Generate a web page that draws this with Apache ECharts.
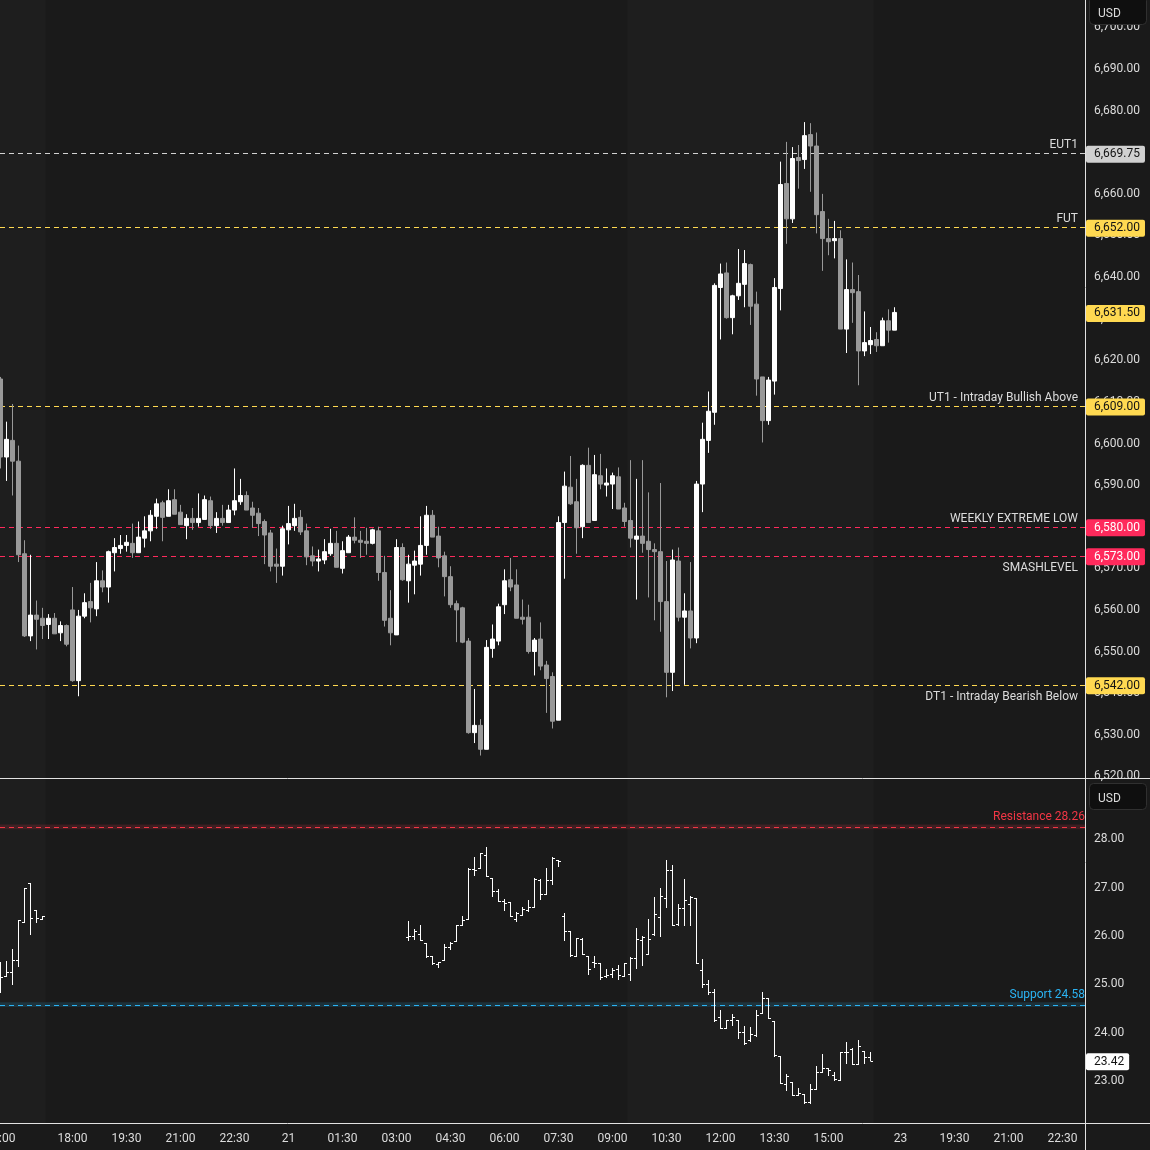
<!DOCTYPE html>
<html>
<head>
<meta charset="utf-8">
<script src="https://cdn.jsdelivr.net/npm/echarts@6/dist/echarts.min.js"></script>
<style>
html,body{margin:0;padding:0;background:#1a1a1a;}
#chart{width:1150px;height:1150px;}
</style>
</head>
<body>
<div id="chart"></div>
<script>
// ---------------- DATA ----------------
// 10-minute bars, slot index 0 = 15:00 (day 20); 17:00-18:00 break removed
const esOpen = [6615.5,6596.75,6600.75,6595.75,6573.5,6553.75,6558.75,6558,6556.5,6558,
6554.5,6556.25,6560,6543,6558.5,6562,6560.25,6567,6565.5,6573.75,
6574.75,6575.5,6576,6573.75,6577.25,6579,6582.5,6585.75,6582.5,6586.5,
6583.5,6580.25,6582,6581,6581.75,6586.25,6580.25,6582,6581,6584,
6586,6587.5,6584.5,6583.25,6581.25,6578.5,6571,6570.5,6579.25,6580.25,
6582.25,6579,6573,6571.75,6572,6573.5,6576,6570,6573.75,6577.5,
6576.75,6576.5,6576,6579,6569,6558,6554,6575,6567,6570.75,
6571,6575.5,6582.75,6577.75,6573,6568,6561.5,6560.5,6552.5,6530.5,
6532.25,6526.5,6550.75,6552.5,6561.25,6567.25,6566,6558.25,6558.25,6550,
6553,6546.75,6544,6533.5,6581,6589.5,6586,6580,6594.75,6581.5,
6592.25,6590,6590.25,6592,6584.5,6581.5,6577,6577.75,6576.5,6574.5,
6574,6562,6545,6571.75,6558.25,6559.75,6553.25,6590.25,6600.75,6607.5,
6637.5,6641,6630.25,6635.5,6638.25,6643,6633.5,6616,6605.5,6615,
6637.25,6662.5,6654,6668.75,6668.25,6674.25,6671.5,6655.75,6649.25,6648.75,
6649.25,6627.5,6637,6636.5,6622.25,6623.75,6625,6623.5,6629.5,6627.25];
const esClose = [6596.75,6601,6595.75,6573.25,6553.75,6558.75,6557.75,6556.25,6558,6554.25,
6556.25,6551.75,6543,6558.5,6561.75,6560.5,6567,6565.5,6574,6575,
6575.5,6576.25,6573.75,6577.5,6579,6582.75,6585.5,6582.25,6586.25,6583,
6580.5,6582,6581,6582,6586.5,6580.25,6582,6581,6584,6586.25,
6587.5,6584,6582.75,6580.75,6578,6570.5,6570.5,6579.5,6580.75,6582,
6578.75,6572.75,6571.75,6572.25,6574,6576,6570.25,6574.25,6577.5,6576.75,
6576.25,6576,6579.25,6569,6557.5,6554.5,6575,6567.25,6571,6571.75,
6575.5,6582.75,6577.5,6572.5,6568,6561.25,6560,6552.25,6530.5,6532.25,
6526.5,6551,6553,6560.75,6567,6565.5,6558,6557.75,6550,6552.75,
6546.5,6543.5,6533.25,6581,6589.75,6585.5,6579.75,6594.75,6581,6592.5,
6590.25,6590.5,6592.25,6584.25,6581.25,6577.25,6577.75,6576,6574.5,6574,
6562,6545,6572,6558.25,6559.75,6553.25,6590.25,6601,6607.75,6638,
6640.75,6630.25,6635.5,6638.5,6643.25,6633,6615.5,6605.5,6615.25,6637.5,
6662.25,6654,6668.5,6668,6674,6671.5,6655,6649.25,6648.5,6649.25,
6627.5,6637,6636.25,6622.25,6624.25,6624.75,6623.5,6629.5,6627.25,6631.5];
const esLow = [6594,6591,6587.5,6571.5,6553.5,6552.5,6550.5,6553,6553,6554.25,
6552.5,6551.25,6542.75,6539.25,6558,6557,6558.5,6564.25,6561.75,6569.25,
6573.5,6574,6572.5,6573.75,6575,6576.5,6579.5,6576.5,6582.5,6583,
6580.5,6577,6579.25,6580,6581.75,6579.5,6578.5,6580.25,6581,6582.75,
6585.25,6584,6579.75,6577.75,6571,6569.25,6566.5,6568.25,6575.75,6579,
6578,6570.75,6570.5,6569.25,6571,6573,6570.25,6568.75,6573.75,6576,
6572.5,6573.25,6575.75,6567,6556,6551.5,6554,6567,6561.75,6563.75,
6568.25,6573.25,6577.5,6570.25,6563.25,6560.5,6552.25,6552,6530.25,6528,
6525,6526.5,6548.5,6551.5,6559,6564.5,6558,6556.5,6549.5,6544.25,
6545.5,6535.25,6531.5,6533.5,6567.5,6585.25,6573.5,6577.25,6581,6581.5,
6589,6587.25,6584.25,6584.25,6580,6575,6562.5,6573.75,6563,6557.5,
6554.75,6539,6540.5,6557.25,6542,6550.75,6552,6583.5,6597.75,6604.5,
6625,6630,6626.25,6634.5,6632.75,6628.5,6611.5,6600.25,6604.5,6611.75,
6632,6648,6653,6661.25,6666,6660.5,6650.5,6641.5,6645.25,6644.5,
6627.5,6621.75,6629,6614,6621,6621.5,6622,6623.5,6624.25,6627.25];
const esHigh = [6616,6605.25,6609.5,6599.5,6576.75,6573.25,6562.25,6560.5,6559,6559.25,
6557.25,6556.5,6565.5,6560,6564,6566.5,6571.5,6569.5,6574.25,6577.25,
6578,6578,6580.75,6581.25,6582.5,6584,6586.75,6586.25,6589,6589,
6585.25,6583,6584.5,6588,6587.5,6587.25,6583.5,6585.25,6585.25,6594,
6591.5,6588.5,6586,6584.5,6581.75,6579.25,6574.75,6580.25,6585,6585.5,
6584,6580.75,6575.25,6574.5,6577,6579.5,6579,6576.5,6578,6582.25,
6579,6579.75,6579.5,6580,6573,6564.75,6577,6576,6573.25,6574.25,
6582.5,6585,6584,6580,6574,6570.5,6562.25,6560.75,6553.25,6541,
6533.75,6552.75,6556.5,6561.5,6569.75,6572.5,6569.75,6562.5,6561.25,6553.25,
6557,6547.75,6545,6582.5,6593.25,6597,6591.5,6595,6599,6597.25,
6597.5,6594,6593,6594.25,6585.75,6596,6591.5,6596,6588.25,6576,
6590.5,6571.75,6574.5,6575,6564,6571.5,6591,6605,6612.5,6638.5,
6643.25,6643.5,6635.75,6646.75,6646.5,6643.25,6636.5,6616,6616,6639.75,
6667.75,6672.5,6671.25,6671.75,6677.25,6677,6674.75,6660,6654,6653.5,
6651.25,6644.25,6643.5,6640.5,6631.75,6628,6626.75,6630.25,6632.25,6632.75];

// lower pane OHLC bars (slot index of each bar)
const vixIndex = [0,1,2,3,4,5,6,7,
68,69,70,71,72,73,74,75,76,77,
78,79,80,81,82,83,84,85,86,87,
88,89,90,91,92,93,94,95,96,97,
98,99,100,101,102,103,104,105,106,107,
108,109,110,111,112,113,114,115,116,117,
118,119,120,121,122,123,124,125,126,127,
128,129,130,131,132,133,134,135,136,137,
138,139,140,141,142,143,144,145];
const vixOpen = [25.10,25.18,25.25,25.50,26.30,27.10,26.54,26.35,
25.98,26.00,26.04,25.85,25.58,25.42,25.51,25.78,25.90,26.23,
26.35,27.39,27.41,27.67,27.20,26.93,26.73,26.71,26.35,26.44,
26.54,26.61,27.15,26.87,27.15,27.57,26.42,26.11,25.58,25.94,
25.58,25.46,25.44,25.17,25.21,25.31,25.18,25.21,25.54,25.92,
25.63,26.05,26.39,26.79,27.36,26.25,26.59,26.67,26.79,25.29,
25.01,24.84,24.33,24.09,24.26,24.26,24.01,23.85,23.95,24.41,
24.71,24.24,23.51,22.93,22.98,22.70,22.74,22.56,22.83,23.19,
23.26,23.13,23.03,23.60,23.67,23.36,23.62,23.49];
const vixHigh = [25.47,25.49,25.74,26.34,27.00,27.10,26.54,26.42,
26.32,26.15,26.23,25.85,25.58,25.47,25.84,25.87,26.23,26.42,
27.40,27.64,27.72,27.85,27.20,26.98,26.77,26.71,26.49,26.60,
26.74,27.20,27.17,27.40,27.64,27.57,26.48,26.11,25.96,25.96,
25.58,25.58,25.44,25.31,25.33,25.40,25.45,25.56,26.17,26.01,
26.36,26.80,27.00,27.57,27.48,26.67,27.19,26.82,26.79,25.53,
25.10,24.90,24.47,24.26,24.39,24.26,24.14,24.11,24.47,24.84,
24.71,24.24,23.51,23.15,22.98,22.85,22.74,22.93,23.31,23.55,
23.26,23.19,23.60,23.81,23.69,23.85,23.62,23.59];
const vixLow = [24.85,25.18,25.00,25.37,26.30,26.05,26.28,26.35,
25.92,25.94,25.92,25.56,25.42,25.36,25.51,25.73,25.89,26.23,
26.35,27.26,27.41,27.25,26.83,26.73,26.53,26.41,26.32,26.43,
26.51,26.61,26.76,26.87,27.08,27.45,25.92,25.58,25.58,25.63,
25.21,25.35,25.12,25.16,25.16,25.12,25.18,25.08,25.33,25.41,
25.62,26.03,26.01,26.61,26.22,26.23,26.23,26.23,25.45,24.94,
24.81,24.25,24.09,24.09,24.15,23.89,23.76,23.83,23.93,24.40,
24.30,23.51,22.96,22.82,22.70,22.70,22.55,22.55,22.83,23.19,
23.12,23.03,23.03,23.37,23.36,23.36,23.38,23.43];
const vixClose = [25.16,25.25,25.50,26.33,27.00,26.38,26.38,26.42,
26.00,26.11,25.92,25.58,25.44,25.46,25.78,25.85,26.23,26.34,
27.39,27.37,27.72,27.25,26.93,26.73,26.69,26.41,26.47,26.56,
26.61,27.19,26.87,27.16,27.62,27.56,26.11,25.60,25.96,25.63,
25.32,25.45,25.15,25.19,25.30,25.20,25.44,25.54,25.94,25.99,
25.94,26.46,26.82,27.36,26.23,26.59,26.75,26.80,25.45,25.01,
24.84,24.26,24.09,24.26,24.33,24.01,23.78,23.97,24.36,24.71,
24.30,23.53,22.96,23.10,22.70,22.75,22.56,22.83,23.19,23.27,
23.22,23.04,23.59,23.59,23.36,23.73,23.50,23.42];

// time axis ticks (slot index -> text)
const timeTickIndex = [0,12,21,30,39,48,57,66,75,84,93,102,111,120,129,138,150,159,168,177];
const timeTickText = ['15:00','18:00','19:30','21:00','22:30','21','01:30','03:00','04:30','06:00','07:30','09:00','10:30','12:00','13:30','15:00','23','19:30','21:00','22:30'];

// price axis ticks
const priceTicks = [6520,6530,6540,6550,6560,6570,6580,6590,6600,6610,6620,6630,6640,6650,6660,6670,6680,6690,6700];
const vixTicks = [23,24,25,26,27,28];

// horizontal levels
const levelNames = ['EUT1','FUT','UT1 - Intraday Bullish Above','WEEKLY EXTREME LOW','SMASHLEVEL','DT1 - Intraday Bearish Below'];
const levelValues = [6669.75, 6652, 6609, 6580, 6573, 6542];
const lastPrice = 6631.5;
const vixLevelNames = ['Resistance','Support'];
const vixLevelValues = [28.26, 24.58];
const vixLast = 23.42;

// regular-session bands (slot boundaries)
const rthStart = [-0.0833, 104.5];
const rthEnd = [7.5, 145.5];

// ---------------- STYLE ----------------
const FONT = 'Roboto, "Noto Sans", sans-serif';
const BG = '#1a1a1a';
const RTH_BG = '#1e1e1e';
const UP = '#ffffff', DOWN = '#999999';
const TXT = '#dcdcdc';
const YEL = '#ffd951', PINK = '#ff2a5c', GREYLVL = '#d2d2d2';
const levelStyle = [
  {line: GREYLVL, tag: '#d0d0d0', tagText: '#131313', side: 'top'},
  {line: YEL, tag: YEL, tagText: '#131313', side: 'top'},
  {line: YEL, tag: YEL, tagText: '#131313', side: 'top'},
  {line: PINK, tag: PINK, tagText: '#ffffff', side: 'top'},
  {line: PINK, tag: PINK, tagText: '#ffffff', side: 'bottom'},
  {line: YEL, tag: YEL, tagText: '#131313', side: 'bottom'}
];
const vixStyle = [
  {line: '#f23645', band: 'rgba(242,54,69,0.17)'},
  {line: '#2bb3f3', band: 'rgba(43,179,243,0.15)'}
];
const DASH = [5, 4];

const XMIN = -1/12, XMAX = 180.75;
const YMIN = 6519.6, YMAX = 6706.6;

function fmtPrice(v) {
  const s = v.toFixed(2).split('.');
  return s[0].replace(/\B(?=(\d{3})+(?!\d))/g, ',') + '.' + s[1];
}

const candleData = esOpen.map((o, i) => [i, o, esClose[i], esLow[i], esHigh[i]]);
const vixData = vixIndex.map((x, k) => [x, vixOpen[k], vixHigh[k], vixLow[k], vixClose[k]]);

const tagLabel = (text, bg, color) => ({
  show: true, position: 'end', formatter: text, distance: [1, 1], offset: [0, 1],
  backgroundColor: bg, color: color, padding: [3, 5, 2, 8], lineHeight: 12,
  fontSize: 12, fontFamily: FONT, borderRadius: 2
});
const hiddenLine = () => ({color: 'rgba(0,0,0,0)', width: 1});

const upperMarkLines = [];
levelValues.forEach((v, k) => {
  const st = levelStyle[k];
  upperMarkLines.push({yAxis: v, lineStyle: hiddenLine(), label: tagLabel(fmtPrice(v), st.tag, st.tagText)});
  upperMarkLines.push({
    yAxis: v, lineStyle: hiddenLine(),
    label: {
      show: true, position: st.side === 'top' ? 'insideEndTop' : 'insideEndBottom',
      formatter: levelNames[k], color: TXT, fontSize: 12, fontFamily: FONT,
      distance: st.side === 'top' ? [7, 2] : [7, 6]
    }
  });
});
upperMarkLines.push({yAxis: lastPrice, lineStyle: hiddenLine(), label: tagLabel(fmtPrice(lastPrice), YEL, '#131313')});

const lowerMarkLines = [];
vixLevelValues.forEach((v, k) => {
  lowerMarkLines.push({
    yAxis: v, lineStyle: hiddenLine(),
    label: {
      show: true, position: 'insideEndTop', formatter: vixLevelNames[k] + ' ' + v.toFixed(2),
      color: vixStyle[k].line, fontSize: 12, fontFamily: FONT, distance: [0, 4]
    }
  });
});
lowerMarkLines.push({yAxis: vixLast, lineStyle: hiddenLine(), label: tagLabel(vixLast.toFixed(2), '#ffffff', '#131313')});

const sessionAreas = rthStart.map((s, k) => [{xAxis: s, itemStyle: {color: RTH_BG}}, {xAxis: rthEnd[k]}]);
const lowerAreas = sessionAreas.concat(vixLevelValues.map((v, k) => [
  {yAxis: v - 0.05, itemStyle: {color: vixStyle[k].band}}, {yAxis: v + 0.05}
]));

// crisp dashed horizontal level line, drawn through the axis scale
function levelLineRenderer(styles) {
  return function (params, api) {
    const k = api.value(0);
    const y = Math.round(api.coord([0, api.value(1)])[1]) + 0.5;
    const cs = params.coordSys;
    return {type: 'line', shape: {x1: cs.x, y1: y, x2: cs.x + cs.width, y2: y},
      style: {stroke: styles[k].line, lineWidth: 1, lineDash: DASH}};
  };
}

const axisLabelBase = {color: TXT, fontSize: 12, fontFamily: FONT, padding: [2, 0, 0, 0]};

const chart = echarts.init(document.getElementById('chart'), null, {renderer: 'canvas'});

const option = {
  backgroundColor: BG,
  animation: false,
  textStyle: {fontFamily: FONT},
  grid: [
    {left: 0, right: 65, top: 0, height: 778, containLabel: false, outerBoundsMode: 'none'},
    {left: 0, right: 65, top: 779, height: 344, containLabel: false, outerBoundsMode: 'none'}
  ],
  xAxis: [
    {type: 'value', gridIndex: 0, min: XMIN, max: XMAX, show: false},
    {type: 'value', gridIndex: 1, min: XMIN, max: XMAX,
      axisLine: {show: false}, axisTick: {show: false}, splitLine: {show: false},
      axisLabel: {
        customValues: timeTickIndex,
        formatter: v => { const k = timeTickIndex.indexOf(Math.round(v)); return k >= 0 ? timeTickText[k] : ''; },
        color: TXT, fontSize: 12, fontFamily: FONT, margin: 10
      }}
  ],
  yAxis: [
    {type: 'value', gridIndex: 0, position: 'right', min: YMIN, max: YMAX,
      axisLine: {show: false}, axisTick: {show: false}, splitLine: {show: false},
      axisLabel: Object.assign({customValues: priceTicks, formatter: v => fmtPrice(v), margin: 9}, axisLabelBase)},
    {type: 'value', gridIndex: 1, position: 'right', min: 22.13, max: 29.25,
      axisLine: {show: false}, axisTick: {show: false}, splitLine: {show: false},
      axisLabel: Object.assign({customValues: vixTicks, formatter: v => v.toFixed(2), margin: 9}, axisLabelBase)}
  ],
  series: [
    {
      type: 'custom', name: 'levels', xAxisIndex: 0, yAxisIndex: 0, z: 1,
      data: levelValues.map((v, k) => [k, v]), encode: {x: 0, y: 1},
      renderItem: levelLineRenderer(levelStyle), silent: true
    },
    {
      type: 'candlestick', xAxisIndex: 0, yAxisIndex: 0, z: 2,
      data: candleData, encode: {x: 0, y: [1, 2, 3, 4]},
      barWidth: 5,
      itemStyle: {color: UP, color0: DOWN, borderColor: UP, borderColor0: DOWN, borderWidth: 1},
      markArea: {silent: true, z: 0.5, data: sessionAreas},
      markLine: {silent: true, symbol: 'none', animation: false, z: 5, data: upperMarkLines}
    },
    {
      type: 'custom', name: 'vixLevels', xAxisIndex: 1, yAxisIndex: 1, z: 1,
      data: vixLevelValues.map((v, k) => [k, v]), encode: {x: 0, y: 1},
      renderItem: levelLineRenderer(vixStyle), silent: true
    },
    {
      type: 'custom', xAxisIndex: 1, yAxisIndex: 1, data: vixData, clip: true, z: 2,
      encode: {x: 0, y: [1, 2, 3, 4]},
      renderItem: function (params, api) {
        const x = api.value(0);
        const o = api.coord([x, api.value(1)]);
        const h = api.coord([x, api.value(2)]);
        const l = api.coord([x, api.value(3)]);
        const c = api.coord([x, api.value(4)]);
        const cx = Math.floor(o[0]) + 0.5;
        const ry = y => Math.round(y) + 0.5;
        const st = {stroke: '#ffffff', lineWidth: 1};
        return {type: 'group', children: [
          {type: 'line', shape: {x1: cx, y1: Math.round(h[1]), x2: cx, y2: Math.round(l[1]) + 1}, style: st},
          {type: 'line', shape: {x1: cx - 2.5, y1: ry(o[1]), x2: cx, y2: ry(o[1])}, style: st},
          {type: 'line', shape: {x1: cx, y1: ry(c[1]), x2: cx + 2.5, y2: ry(c[1])}, style: st}
        ]};
      },
      markArea: {silent: true, z: 0.5, data: lowerAreas},
      markLine: {silent: true, symbol: 'none', animation: false, z: 5, data: lowerMarkLines}
    }
  ],
  graphic: [
    {type: 'line', z: 100, shape: {x1: 1085.5, y1: 0, x2: 1085.5, y2: 1150}, style: {stroke: '#e2e2e2', lineWidth: 1}},
    {type: 'line', z: 100, shape: {x1: 0, y1: 778.5, x2: 1150, y2: 778.5}, style: {stroke: '#e2e2e2', lineWidth: 1}},
    {type: 'line', z: 100, shape: {x1: 0, y1: 1123.5, x2: 1150, y2: 1123.5}, style: {stroke: '#e2e2e2', lineWidth: 1}},
    {type: 'rect', z: 100, shape: {x: 1089.5, y: -3.5, width: 57, height: 28, r: 4}, style: {fill: '#0f0f0f', stroke: '#303030', lineWidth: 1}},
    {type: 'text', z: 101, x: 1098, y: 14, style: {text: 'USD', fill: TXT, font: '12px ' + FONT, verticalAlign: 'middle'}},
    {type: 'rect', z: 100, shape: {x: 1089.5, y: 783.5, width: 57, height: 26, r: 4}, style: {fill: '#0f0f0f', stroke: '#303030', lineWidth: 1}},
    {type: 'text', z: 101, x: 1098, y: 798.5, style: {text: 'USD', fill: TXT, font: '12px ' + FONT, verticalAlign: 'middle'}}
  ]
};

chart.setOption(option);
</script>
</body>
</html>
